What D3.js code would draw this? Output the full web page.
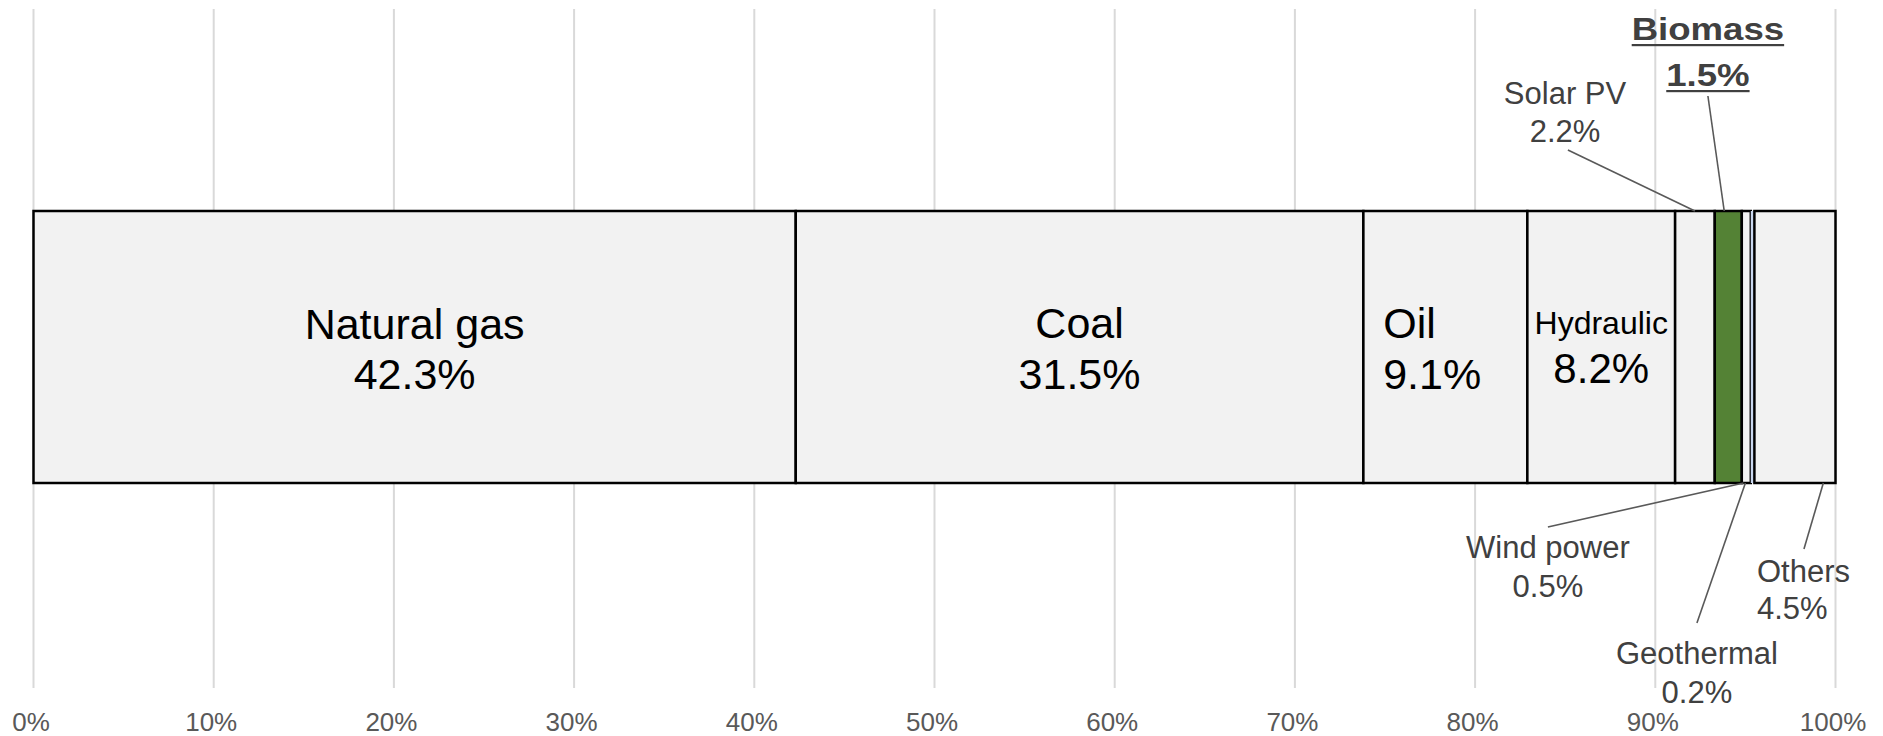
<!DOCTYPE html>
<html>
<head>
<meta charset="utf-8">
<script src="https://cdn.jsdelivr.net/npm/d3@7"></script>
<style>
  html, body { margin: 0; padding: 0; background: #fff; }
  svg { display: block; font-family: "Liberation Sans", Arial, sans-serif; }
</style>
</head>
<body>
<svg id="chart" width="1883" height="736"></svg>
<script>
// ---- data ----
const categories = ["Natural gas", "Coal", "Oil", "Hydraulic", "Solar PV", "Biomass", "Wind power", "Geothermal", "Others"];
const shares = [42.3, 31.5, 9.1, 8.2, 2.2, 1.5, 0.5, 0.2, 4.5];
const tickValues = [0, 10, 20, 30, 40, 50, 60, 70, 80, 90, 100];
const tickLabels = ["0%", "10%", "20%", "30%", "40%", "50%", "60%", "70%", "80%", "90%", "100%"];
const insideLabels = ["Natural gas", "Coal", "Oil", "Hydraulic"];
const outsideLabels = ["Solar PV", "Biomass", "Wind power", "Geothermal", "Others"];
const highlighted = "Biomass";

// ---- layout ----
const x = d3.scaleLinear().domain([0, 100]).range([33.5, 1835.5]);
const barTop = 211, barBottom = 483;
const gridTop = 9, gridBottom = 688;

const svg = d3.select("#chart");

// stacked data
const stack = [];
let acc = 0;
categories.forEach((c, i) => {
  stack.push({ name: c, value: shares[i], x0: acc, x1: acc + shares[i] });
  acc += shares[i];
});
const byName = Object.fromEntries(stack.map(d => [d.name, d]));

// gridlines
svg.append("g").selectAll("line").data(tickValues).join("line")
  .attr("x1", d => x(d)).attr("x2", d => x(d))
  .attr("y1", gridTop).attr("y2", gridBottom)
  .attr("stroke", "#d9d9d9").attr("stroke-width", 2);

// axis labels
const axis = d3.axisBottom(x).tickValues(tickValues).tickFormat((d, i) => tickLabels[i]).tickSize(0).tickPadding(0);
const ag = svg.append("g").attr("transform", `translate(-3, 0)`).call(axis);
ag.select(".domain").remove();
ag.selectAll("text")
  .attr("y", 731).attr("dy", null)
  .attr("fill", "#595959")
  .style("font-size", "26px")
  .style("font-family", "'Liberation Sans', Arial, sans-serif");

// segments
const fillFor = d => d.name === "Biomass" ? "#548235" : (d.name === "Geothermal" ? "#c9d7ef" : "#f2f2f2");
svg.append("g").selectAll("rect").data(stack).join("rect")
  .attr("x", d => x(d.x0)).attr("width", d => x(d.x1) - x(d.x0))
  .attr("y", barTop).attr("height", barBottom - barTop)
  .attr("fill", fillFor)
  .attr("stroke", d => d.name === "Geothermal" ? "none" : "#000")
  .attr("stroke-width", 2.5);

// inside labels
const inside = {
  "Natural gas": { anchor: "middle", nameSize: 43, valSize: 43, y1: 339, y2: 389 },
  "Coal":        { anchor: "middle", nameSize: 43, valSize: 43, y1: 338, y2: 389 },
  "Oil":         { anchor: "start",  nameSize: 43, valSize: 43, y1: 338, y2: 389, pad: 1.1 },
  "Hydraulic":   { anchor: "middle", nameSize: 32, valSize: 42, y1: 334, y2: 383 }
};
insideLabels.forEach(n => {
  const d = byName[n], o = inside[n];
  const cx = o.anchor === "middle" ? x((d.x0 + d.x1) / 2) : x(d.x0 + o.pad);
  const t = svg.append("text").attr("text-anchor", o.anchor).attr("fill", "#000");
  t.append("tspan").attr("x", cx).attr("y", o.y1).style("font-size", o.nameSize + "px").text(d.name);
  t.append("tspan").attr("x", cx).attr("y", o.y2).style("font-size", o.valSize + "px").text(d.value.toFixed(1) + "%");
});

// outside labels with leader lines (label x in percent units)
const outside = {
  "Solar PV":   { lx: 84.99, anchor: "middle", y1: 104, y2: 142, fromX: 85.15, fromY: 150, frac: 0.5, edge: barTop },
  "Biomass":    { lx: 92.92, anchor: "middle", y1: 40,  y2: 86,  fromX: 92.92, fromY: 96,  frac: 0.35, edge: barTop },
  "Wind power": { lx: 84.04, anchor: "middle", y1: 558, y2: 597, fromX: 84.04, fromY: 527, frac: 0.2, edge: barBottom },
  "Geothermal": { lx: 92.31, anchor: "middle", y1: 664, y2: 703, fromX: 92.31, fromY: 623, frac: -1.5, edge: barBottom },
  "Others":     { lx: 95.64, anchor: "start",  y1: 582, y2: 619, fromX: 98.25, fromY: 549, frac: 0.85, edge: barBottom }
};
outsideLabels.forEach(n => {
  const d = byName[n], o = outside[n];
  const bx = x(d.x0 + o.frac * d.value);
  svg.append("line")
    .attr("x1", x(o.fromX)).attr("y1", o.fromY)
    .attr("x2", bx).attr("y2", o.edge)
    .attr("stroke", "#595959").attr("stroke-width", 1.6);
  const bold = n === highlighted;
  const g = svg.append("g");
  const cx = x(o.lx);
  const lines = [[d.name, o.y1], [d.value.toFixed(1) + "%", o.y2]];
  lines.forEach(([s, yy]) => {
    const t = g.append("text")
      .attr("text-anchor", o.anchor)
      .attr("fill", "#404040")
      .style("font-size", "31px")
      .style("font-weight", bold ? "bold" : "normal")
      .text(s);
    if (bold) {
      t.attr("transform", `translate(${cx},${yy}) scale(1.18,1)`);
      const w = t.node().getComputedTextLength() * 1.18;
      g.append("rect")
        .attr("x", cx - w / 2).attr("width", w)
        .attr("y", yy + 4).attr("height", 2.2)
        .attr("fill", "#404040");
    } else {
      t.attr("x", cx).attr("y", yy);
    }
  });
});
</script>
</body>
</html>
